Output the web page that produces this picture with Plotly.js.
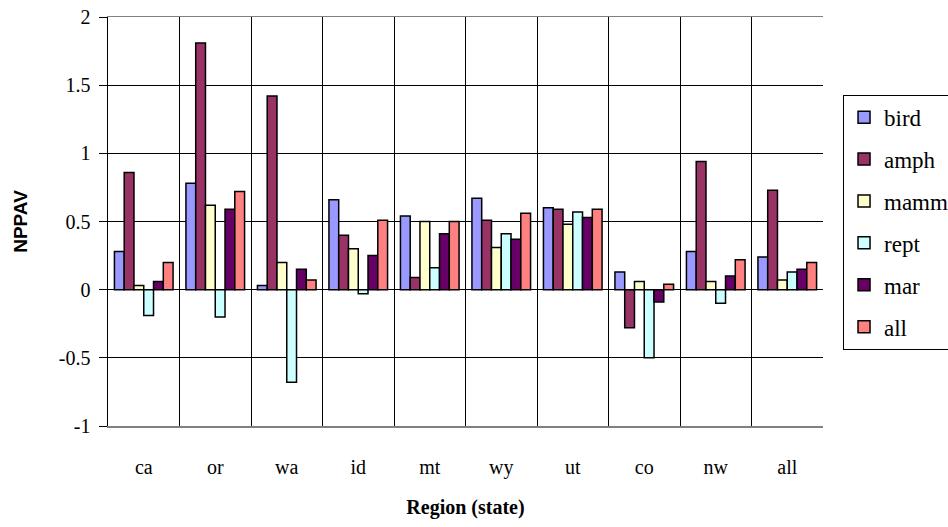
<!DOCTYPE html>
<html>
<head>
<meta charset="utf-8">
<script src="https://cdn.plot.ly/plotly-3.0.1.min.js"></script>
<style>
  html, body { margin: 0; padding: 0; background: #fff; }
  #chart { width: 948px; height: 527px; }
</style>
</head>
<body>
<div id="chart"></div>
<script>
// Regions on the x axis
const regions = ["ca", "or", "wa", "id", "mt", "wy", "ut", "co", "nw", "all"];

// NPPAV per taxon group, one value per region
const bird = [0.28, 0.78, 0.03, 0.66, 0.54, 0.67, 0.60, 0.13, 0.28, 0.24];
const amph = [0.86, 1.81, 1.42, 0.40, 0.09, 0.51, 0.59, -0.28, 0.94, 0.73];
const mamm = [0.03, 0.62, 0.20, 0.30, 0.50, 0.31, 0.48, 0.06, 0.06, 0.07];
const rept = [-0.19, -0.20, -0.68, -0.03, 0.16, 0.41, 0.57, -0.50, -0.10, 0.13];
const mar  = [0.06, 0.59, 0.15, 0.25, 0.41, 0.37, 0.53, -0.09, 0.10, 0.15];
const all  = [0.20, 0.72, 0.07, 0.51, 0.50, 0.56, 0.59, 0.04, 0.22, 0.20];

// Y axis ticks, written with a plain hyphen for negatives
const yTickVals = [-1, -0.5, 0, 0.5, 1, 1.5, 2];
const yTickText = ["-1", "-0.5", "0", "0.5", "1", "1.5", "2"];

const seriesNames = ["bird", "amph", "mamm", "rept", "mar", "all"];
const seriesValues = [bird, amph, mamm, rept, mar, all];
const seriesColors = ["#9999FF", "#993366", "#FFFFCC", "#CCFFFF", "#660066", "#FF8080"];

const traces = seriesNames.map((name, i) => ({
  type: "bar",
  name: name,
  x: regions,
  y: seriesValues[i],
  legendgroup: name,
  marker: { color: seriesColors[i], line: { color: "#000", width: 1.5 } },
  hoverinfo: "x+y+name"
}));

const serif = "Liberation Serif, serif";
const sans = "Liberation Sans, sans-serif";

const layout = {
  width: 948,
  height: 527,
  margin: { l: 108, r: 125, t: 17, b: 101, pad: 0, autoexpand: false },
  paper_bgcolor: "#fff",
  plot_bgcolor: "#fff",
  barmode: "group",
  bargap: 0.18,
  bargroupgap: 0,
  showlegend: true,
  font: { family: serif, size: 20, color: "#000" },
  xaxis: {
    type: "category",
    tickson: "boundaries",
    showgrid: true,
    gridcolor: "#000",
    gridwidth: 1,
    ticks: "",
    ticklabelstandoff: 22,
    showline: true,
    linecolor: "#808080",
    linewidth: 1.5,
    mirror: true,
    automargin: false,
    tickfont: { family: serif, size: 20, color: "#000" },
    title: { text: "<b>Region (state)</b>", font: { family: serif, size: 20, color: "#000" }, standoff: 22 }
  },
  yaxis: {
    range: [-1, 2],
    tickmode: "array",
    tickvals: yTickVals,
    ticktext: yTickText,
    showgrid: true,
    gridcolor: "#000",
    gridwidth: 1,
    zeroline: true,
    zerolinecolor: "#000",
    zerolinewidth: 1,
    ticks: "outside",
    ticklen: 8,
    tickcolor: "#000",
    ticklabelstandoff: 4,
    showline: true,
    linecolor: "#000",
    linewidth: 1.5,
    mirror: false,
    automargin: false,
    tickfont: { family: serif, size: 20, color: "#000" },
    title: { text: "<b>NPPAV</b>", font: { family: sans, size: 19, color: "#000" }, standoff: 26 }
  },
  legend: {
    x: 1.028,
    xanchor: "left",
    y: 0.81,
    yanchor: "top",
    bgcolor: "#fff",
    bordercolor: "#000",
    borderwidth: 1,
    tracegroupgap: 9,
    font: { family: serif, size: 23, color: "#000" },
    itemwidth: 30
  }
};

Plotly.newPlot("chart", traces, layout, { displayModeBar: false, staticPlot: true });
</script>
</body>
</html>
